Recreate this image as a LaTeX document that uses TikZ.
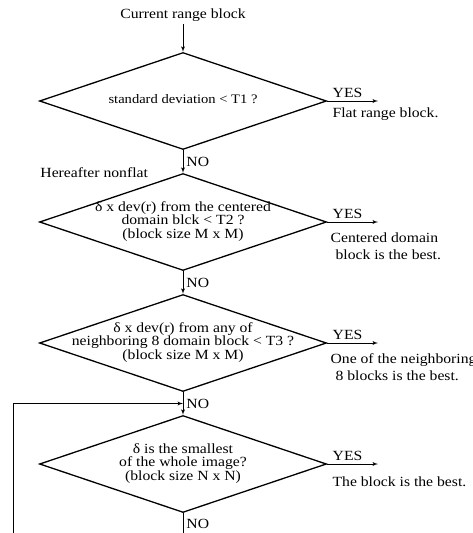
\documentclass[tikz,border=0pt]{standalone}
\usepackage{fontspec}
\setmainfont{Liberation Serif}[FakeStretch=1.12]
\usetikzlibrary{arrows,shapes.geometric,calc}
\newcommand{\condtext}[1]{\makebox[0pt]{\raisebox{-0.25em}[0pt][0pt]{%
    \begin{tabular}{@{}c@{}}#1\end{tabular}}}}
\tikzstyle{decision} = [draw, diamond, line width=1.3pt, inner sep=0pt,
    minimum width=287pt, minimum height=97pt,
    font=\fontsize{14}{13.3}\selectfont]
\tikzstyle{result} = [align=left, inner sep=0pt, anchor=north west,
    font=\fontsize{14}{17}\selectfont]
\tikzstyle{input} = [coordinate]
\tikzstyle{output} = [coordinate]

\begin{document}
\begin{tikzpicture}[auto, node distance=121pt, >=latex', line width=0.9pt,
    font=\fontsize{14}{16}\selectfont]
    \useasboundingbox (0,0) rectangle (473pt,-533pt);
    \clip (0,0) rectangle (473pt,-533pt);
    \node [inner xsep=0pt, inner ysep=2pt] (current) at (183pt,-15pt) {Current range block};
    \node [decision, font=\fontsize{13}{13.3}\selectfont] (stddev) at (183pt,-101pt)
        {\condtext{standard deviation < T1 ?}};
    \node [decision, below of=stddev] (centered)
        {\condtext{δ x dev(r) from the centered\\ domain blck < T2 ?\\ (block size M x M)}};
    \node [decision, below of=centered] (neighbor)
        {\condtext{δ x dev(r) from any of\\ neighboring 8 domain block < T3 ?\\ (block size M x M)}};
    \node [decision, below of=neighbor] (whole)
        {\condtext{δ is the smallest\\ of the whole image?\\ (block size N x N)}};
    \node [inner sep=0pt, anchor=west] (nonflat) at (40pt,-173pt) {Hereafter nonflat};
    % yes branches
    \node [output, right of=stddev, node distance=195pt] (yes1) {};
    \node [output, right of=centered, node distance=195pt] (yes2) {};
    \node [output, right of=neighbor, node distance=195pt] (yes3) {};
    \node [output, right of=whole, node distance=195pt] (yes4) {};
    \draw [->] (stddev.east) -- node [pos=0.4, inner sep=2.5pt] {YES} (yes1);
    \draw [->] (centered.east) -- node [pos=0.4, inner sep=2.5pt] {YES} (yes2);
    \draw [->] (neighbor.east) -- node [pos=0.4, inner sep=2.5pt] {YES} (yes3);
    \draw [->] (whole.east) -- node [pos=0.4, inner sep=2.5pt] {YES} (yes4);
    \node [result] (flat) at ([xshift=5pt,yshift=-6pt]stddev.east) {Flat range block.};
    \node [result] (cbest) at ([xshift=3pt,yshift=-10.5pt]centered.east)
        {Centered domain\\ \hspace*{5pt}block is the best.};
    \node [result] (nbest) at ([xshift=3pt,yshift=-10pt]neighbor.east)
        {One of the neighboring\\ \hspace*{5pt}8 blocks is the best.};
    \node [result] (wbest) at ([xshift=5pt,yshift=-12.5pt]whole.east) {The block is the best.};
    % no branches
    \draw [->] (current) -- (stddev);
    \draw [->] (stddev) -- node [inner sep=3pt] {NO} (centered);
    \draw [->] (centered) -- node [inner sep=3pt] {NO} (neighbor);
    \draw [->] (neighbor) -- node [inner sep=3pt] {NO} (whole);
    \node [input, below of=whole, node distance=75pt] (loop) {};
    \coordinate (join) at ($(neighbor.south)!0.5!(whole.north)$);
    \coordinate (corner) at (13pt,-539pt);
    \draw [->] (whole) -- node [pos=0.4, inner sep=3pt] {NO} (loop) -- (corner) |- (join);
\end{tikzpicture}
\end{document}
